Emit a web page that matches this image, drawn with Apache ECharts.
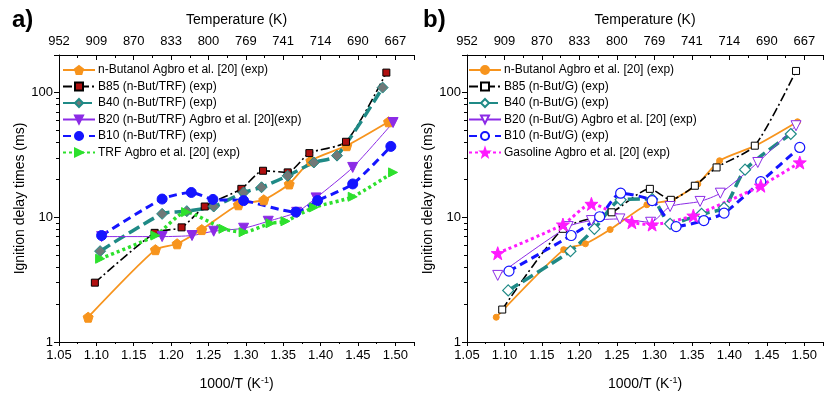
<!DOCTYPE html>
<html>
<head>
<meta charset="utf-8">
<script src="https://cdn.jsdelivr.net/npm/echarts@6/dist/echarts.min.js"></script>
<style>
  html, body { margin: 0; padding: 0; background: #fff; }
  #chart { width: 825px; height: 402px; }
</style>
</head>
<body>
<div id="chart"></div>
<script>
// 1000/T (K^-1) vs ignition delay (ms)
const butanol = [[1.089, 1.58], [1.179, 5.5], [1.208, 6.13], [1.241, 7.97], [1.290, 12.6], [1.324, 13.8], [1.358, 18.5], [1.387, 28.4], [1.435, 37.5], [1.491, 58.3]]

// panel a) n-Butanol / TRF
const b85Trf = [[1.098, 2.99], [1.178, 7.5], [1.214, 8.3], [1.245, 12.2], [1.294, 16.9], [1.323, 23.6], [1.356, 22.9], [1.385, 32.7], [1.434, 40.3], [1.488, 144.5]]
const b40Trf = [[1.105, 5.35], [1.188, 10.65], [1.221, 11.2], [1.257, 12.2], [1.297, 15.8], [1.321, 17.4], [1.356, 21.5], [1.391, 27.5], [1.422, 31.2], [1.483, 109.6]]
const b20Trf = [[1.107, 7.0], [1.188, 7.0], [1.228, 7.14], [1.257, 7.73], [1.297, 8.17], [1.330, 9.29], [1.368, 10.96], [1.394, 14.3], [1.443, 25.1], [1.497, 57.5]]
const b10Trf = [[1.107, 7.14], [1.188, 14.0], [1.227, 15.8], [1.256, 13.9], [1.297, 13.6], [1.367, 11.0], [1.396, 13.6], [1.443, 18.5], [1.494, 37.0]]
const trf = [[1.105, 4.65], [1.179, 7.14], [1.220, 11.0], [1.270, 8.08], [1.297, 7.59], [1.333, 8.95], [1.353, 9.29], [1.391, 12.0], [1.443, 14.6], [1.497, 22.9]]

// panel b) n-Butanol / gasoline
const b85G = [[1.097, 1.82], [1.178, 8.08], [1.243, 10.96], [1.294, 16.9], [1.322, 13.8], [1.354, 17.9], [1.383, 25.1], [1.434, 37.5], [1.489, 149]]
const b40G = [[1.105, 2.59], [1.188, 5.35], [1.220, 8.08], [1.255, 13.8], [1.297, 14.0], [1.321, 8.86], [1.363, 10.65], [1.393, 11.9], [1.421, 24.1], [1.482, 46.5]]
const b20G = [[1.091, 3.42], [1.185, 8.42], [1.216, 9.41], [1.254, 9.7], [1.295, 9.12], [1.321, 12.2], [1.361, 13.4], [1.388, 15.6], [1.438, 27.5], [1.489, 54.2]]
const b10G = [[1.106, 3.70], [1.189, 7.14], [1.227, 10.1], [1.255, 15.6], [1.297, 13.6], [1.329, 8.42], [1.366, 9.41], [1.393, 10.8], [1.442, 19.3], [1.494, 36.3]]
const gasoline = [[1.091, 5.15], [1.178, 8.74], [1.216, 12.8], [1.270, 9.12], [1.297, 8.74], [1.352, 10.3], [1.442, 17.9], [1.494, 27.5]]

const tempTicks = [952, 909, 870, 833, 800, 769, 741, 714, 690, 667]
const xMin = 1.05
const xMax = 1.525
const xStep = 0.05

const FONT = 'Liberation Sans, Arial, sans-serif'
const pentagon = 'path://M0,-10L9.51,-3.09L5.88,8.09L-5.88,8.09L-9.51,-3.09Z'
const star = 'path://M0,-10L2.35,-3.24L9.51,-3.09L3.8,1.24L5.88,8.09L0,4L-5.88,8.09L-3.8,1.24L-9.51,-3.09L-2.35,-3.24Z'

function bottomAxis(gridIndex) {
  return {
    type: 'value', gridIndex, position: 'bottom',
    min: xMin, max: xMax, interval: xStep,
    name: '1000/T (K{sup|-1})', nameLocation: 'middle', nameGap: 34,
    nameTextStyle: { fontFamily: FONT, fontSize: 14, color: '#000', rich: { sup: { fontSize: 9, verticalAlign: 'top', padding: [0, 0, 8, 0] } } },
    axisLine: { lineStyle: { color: '#000', width: 1 } },
    axisTick: { length: 4, lineStyle: { color: '#000' } },
    minorTick: { show: true, splitNumber: 2, length: 2, lineStyle: { color: '#000' } },
    axisLabel: { fontFamily: FONT, fontSize: 13, color: '#000', margin: 7, showMaxLabel: false, formatter: v => v.toFixed(2) },
    splitLine: { show: false },
  }
}

function topAxis(gridIndex) {
  return {
    type: 'value', gridIndex, position: 'top',
    min: xMin, max: xMax, interval: xStep,
    name: 'Temperature (K)', nameLocation: 'middle', nameGap: 28,
    nameTextStyle: { fontFamily: FONT, fontSize: 14, color: '#000' },
    axisLine: { lineStyle: { color: '#000', width: 1 } },
    axisTick: { inside: true, length: 5, lineStyle: { color: '#000' } },
    minorTick: { show: true, splitNumber: 2, length: 3, lineStyle: { color: '#000' } },
    axisLabel: {
      fontFamily: FONT, fontSize: 13, color: '#000', margin: 7, showMaxLabel: false,
      formatter: v => {
        const i = Math.round((v - xMin) / xStep)
        return tempTicks[i] !== undefined ? String(tempTicks[i]) : ''
      },
    },
    splitLine: { show: false },
  }
}

function yAxis(gridIndex) {
  return {
    type: 'log', gridIndex, logBase: 10, min: 1, max: 200,
    name: 'Ignition delay times (ms)', nameLocation: 'middle', nameGap: 32,
    nameTextStyle: { fontFamily: FONT, fontSize: 14, color: '#000' },
    axisLine: { show: true, lineStyle: { color: '#000', width: 1 } },
    axisTick: { show: true, length: 5, lineStyle: { color: '#000' } },
    minorTick: { show: true, splitNumber: 9, length: 3, lineStyle: { color: '#000' } },
    axisLabel: { fontFamily: FONT, fontSize: 13, color: '#000', margin: 6, showMaxLabel: false },
    splitLine: { show: false },
  }
}

function line(name, data, xAxisIndex, opt) {
  return {
    name, type: 'line', data, xAxisIndex, yAxisIndex: xAxisIndex === 0 ? 0 : 1,
    smooth: 0.22,
    symbol: opt.symbol, symbolSize: opt.size, symbolRotate: opt.rotate || 0,
    lineStyle: { color: opt.color, width: opt.width, type: opt.dash || 'solid' },
    itemStyle: { color: opt.fill || opt.color, borderColor: opt.border || opt.color, borderWidth: opt.borderWidth || 1 },
    z: opt.z || 2,
  }
}

const ORANGE = '#f7941d'
const TEAL = '#1f8a86'
const PURPLE = '#8c2be6'
const BLUE = '#1414ff'
const GREEN = '#2de02d'
const MAGENTA = '#ff1aff'

const leftNames = ['n-Butanol Agbro et al. [20] (exp)', 'B85 (n-But/TRF) (exp)', 'B40 (n-But/TRF) (exp)',
  'B20 (n-But/TRF) Agbro et al. [20](exp)', 'B10 (n-But/TRF) (exp)', 'TRF Agbro et al. [20] (exp)']
const rightNames = ['n-Butanol Agbro et al. [20] (exp) ', 'B85 (n-But/G) (exp)', 'B40 (n-But/G) (exp)',
  'B20 (n-But/G) Agbro et al. [20] (exp)', 'B10 (n-But/G) (exp)', 'Gasoline Agbro et al. [20] (exp)']

const series = [
  line(leftNames[0], butanol, 0, { symbol: pentagon, size: 10, color: ORANGE, width: 1.8 }),
  line(leftNames[1], b85Trf, 0, { symbol: 'rect', size: 7, color: '#000', fill: '#b01010', border: '#000', width: 1.6, dash: [9, 3, 2, 3] }),
  line(leftNames[2], b40Trf, 0, { symbol: 'diamond', size: 11, color: TEAL, fill: '#707878', border: TEAL, width: 3.5, dash: [12, 5] }),
  line(leftNames[3], b20Trf, 0, { symbol: 'triangle', size: 10, rotate: 180, color: PURPLE, width: 1 }),
  line(leftNames[4], b10Trf, 0, { symbol: 'circle', size: 10, color: BLUE, width: 3, dash: [8, 5] }),
  line(leftNames[5], trf, 0, { symbol: 'triangle', size: 9, rotate: -90, color: GREEN, width: 3.5, dash: [3, 3] }),

  line(rightNames[0], butanol, 2, { symbol: 'circle', size: 6, color: ORANGE, width: 1.8 }),
  line(rightNames[1], b85G, 2, { symbol: 'rect', size: 7, color: '#000', fill: '#fff', border: '#000', width: 1.6, dash: [9, 3, 2, 3] }),
  line(rightNames[2], b40G, 2, { symbol: 'diamond', size: 11, color: TEAL, fill: '#fff', border: TEAL, width: 3.5, dash: [12, 5], borderWidth: 1.2 }),
  line(rightNames[3], b20G, 2, { symbol: 'triangle', size: 10, rotate: 180, color: PURPLE, fill: '#fff', border: PURPLE, width: 1 }),
  line(rightNames[4], b10G, 2, { symbol: 'circle', size: 10, color: BLUE, fill: '#fff', border: BLUE, width: 3, dash: [8, 5], borderWidth: 1.2 }),
  line(rightNames[5], gasoline, 2, { symbol: star, size: 13, color: MAGENTA, width: 3, dash: [3, 3] }),
]

const legendBase = {
  orient: 'vertical', itemWidth: 32, itemHeight: 10, itemGap: 4.5,
  textStyle: { fontFamily: FONT, fontSize: 12, color: '#000', padding: [0, 0, 0, -2] },
  backgroundColor: 'transparent', padding: 0,
}

const chart = echarts.init(document.getElementById('chart'), null, { renderer: 'canvas' })
chart.setOption({
  animation: false,
  backgroundColor: '#fff',
  title: [
    { text: 'a)', left: 7, top: 3, textStyle: { fontFamily: FONT, fontSize: 24, fontWeight: 'bold', color: '#000' } },
    { text: 'b)', left: 418, top: 3, textStyle: { fontFamily: FONT, fontSize: 24, fontWeight: 'bold', color: '#000' } },
  ],
  legend: [
    Object.assign({ left: 62, top: 64, data: leftNames }, legendBase),
    Object.assign({ left: 468, top: 64, data: rightNames }, legendBase),
  ],
  grid: [
    { left: 59, top: 55, width: 355, height: 287 },
    { left: 467, top: 55, width: 356, height: 287 },
  ],
  xAxis: [bottomAxis(0), topAxis(0), bottomAxis(1), topAxis(1)],
  yAxis: [yAxis(0), yAxis(1)],
  series,
})
</script>
</body>
</html>
